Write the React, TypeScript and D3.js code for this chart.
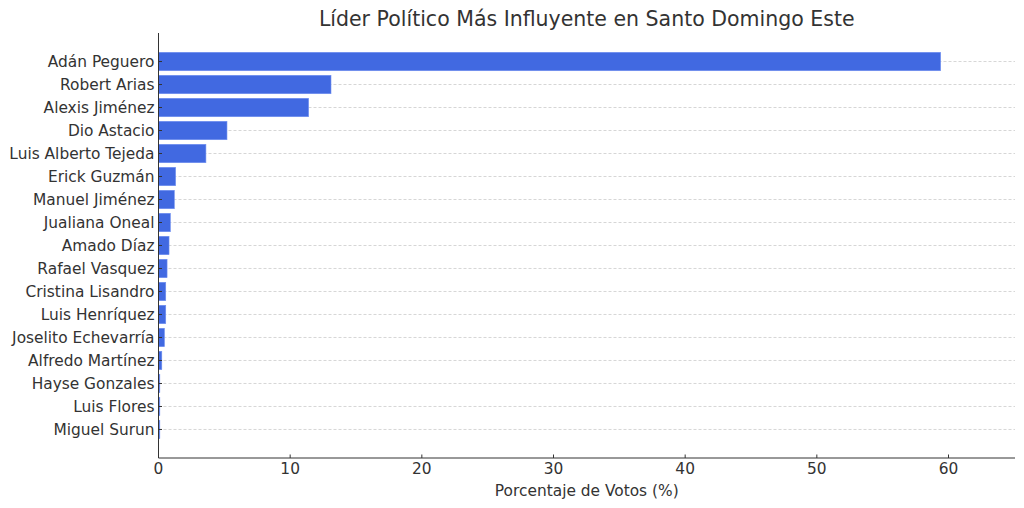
import React from 'react';
import * as d3 from 'd3';

const leaders = [
  'Adán Peguero',
  'Robert Arias',
  'Alexis Jiménez',
  'Dio Astacio',
  'Luis Alberto Tejeda',
  'Erick Guzmán',
  'Manuel Jiménez',
  'Jualiana Oneal',
  'Amado Díaz',
  'Rafael Vasquez',
  'Cristina Lisandro',
  'Luis Henríquez',
  'Joselito Echevarría',
  'Alfredo Martínez',
  'Hayse Gonzales',
  'Luis Flores',
  'Miguel Surun',
];
const votes = [59.4, 13.1, 11.4, 5.2, 3.6, 1.3, 1.2, 0.9, 0.8, 0.65, 0.55, 0.55, 0.45, 0.25, 0.1, 0.1, 0.1];
const xTicks = [0, 10, 20, 30, 40, 50, 60];

export default function App() {
  const width = 1024;
  const height = 508;
  const left = 158.5;
  const right = 1015;
  const top = 33;
  const bottom = 458;
  const font = 'DejaVu Sans, sans-serif';

  const x = d3.scaleLinear().domain([0, 65.05]).range([left, right]);
  // category axis: first leader at the top, 5% padding on both ends
  const y = d3.scaleLinear().domain([-1.24, leaders.length - 1 + 1.24]).range([top, bottom]);
  const barH = y(0.4) - y(-0.4);

  return (
    <svg width={width} height={height} style={{ position: 'absolute', left: 0, top: 0 }} fontFamily={font}>
      <rect width={width} height={height} fill="#ffffff" />
      <text x={(left + right) / 2} y={26} textAnchor="middle" fontSize={20.5} fill="#333">
        Líder Político Más Influyente en Santo Domingo Este
      </text>

      {leaders.map((name, i) => (
        <line key={`g-${name}`} x1={left} x2={right} y1={y(i)} y2={y(i)} stroke="#cccccc" strokeWidth={0.8} strokeDasharray="3,2" />
      ))}

      {leaders.map((name, i) => (
        <rect
          key={`b-${name}`}
          x={x(0)}
          y={y(i) - barH / 2}
          width={x(votes[i]) - x(0)}
          height={barH}
          fill="#4169e1"
          stroke="#6f8ff0"
          strokeWidth={0.6}
        />
      ))}

      {leaders.map((name, i) => (
        <g key={`t-${name}`}>
          <line x1={left} x2={left + 3.5} y1={y(i)} y2={y(i)} stroke="#333" strokeWidth={1} />
          <text x={left - 4} y={y(i)} dy="0.36em" textAnchor="end" fontSize={15.4} fill="#333">
            {name}
          </text>
        </g>
      ))}

      {xTicks.map((t) => (
        <g key={`x-${t}`}>
          <line x1={x(t)} x2={x(t)} y1={bottom} y2={bottom - 3.5} stroke="#333" strokeWidth={1} />
          <text x={x(t)} y={bottom + 16} textAnchor="middle" fontSize={15.4} fill="#333">
            {t}
          </text>
        </g>
      ))}

      <line x1={left} x2={left} y1={top} y2={bottom} stroke="#333" strokeWidth={1} />
      <line x1={left} x2={right} y1={bottom} y2={bottom} stroke="#333" strokeWidth={1} />

      <text x={(left + right) / 2} y={496} textAnchor="middle" fontSize={15.4} fill="#333">
        Porcentaje de Votos (%)
      </text>
    </svg>
  );
}
